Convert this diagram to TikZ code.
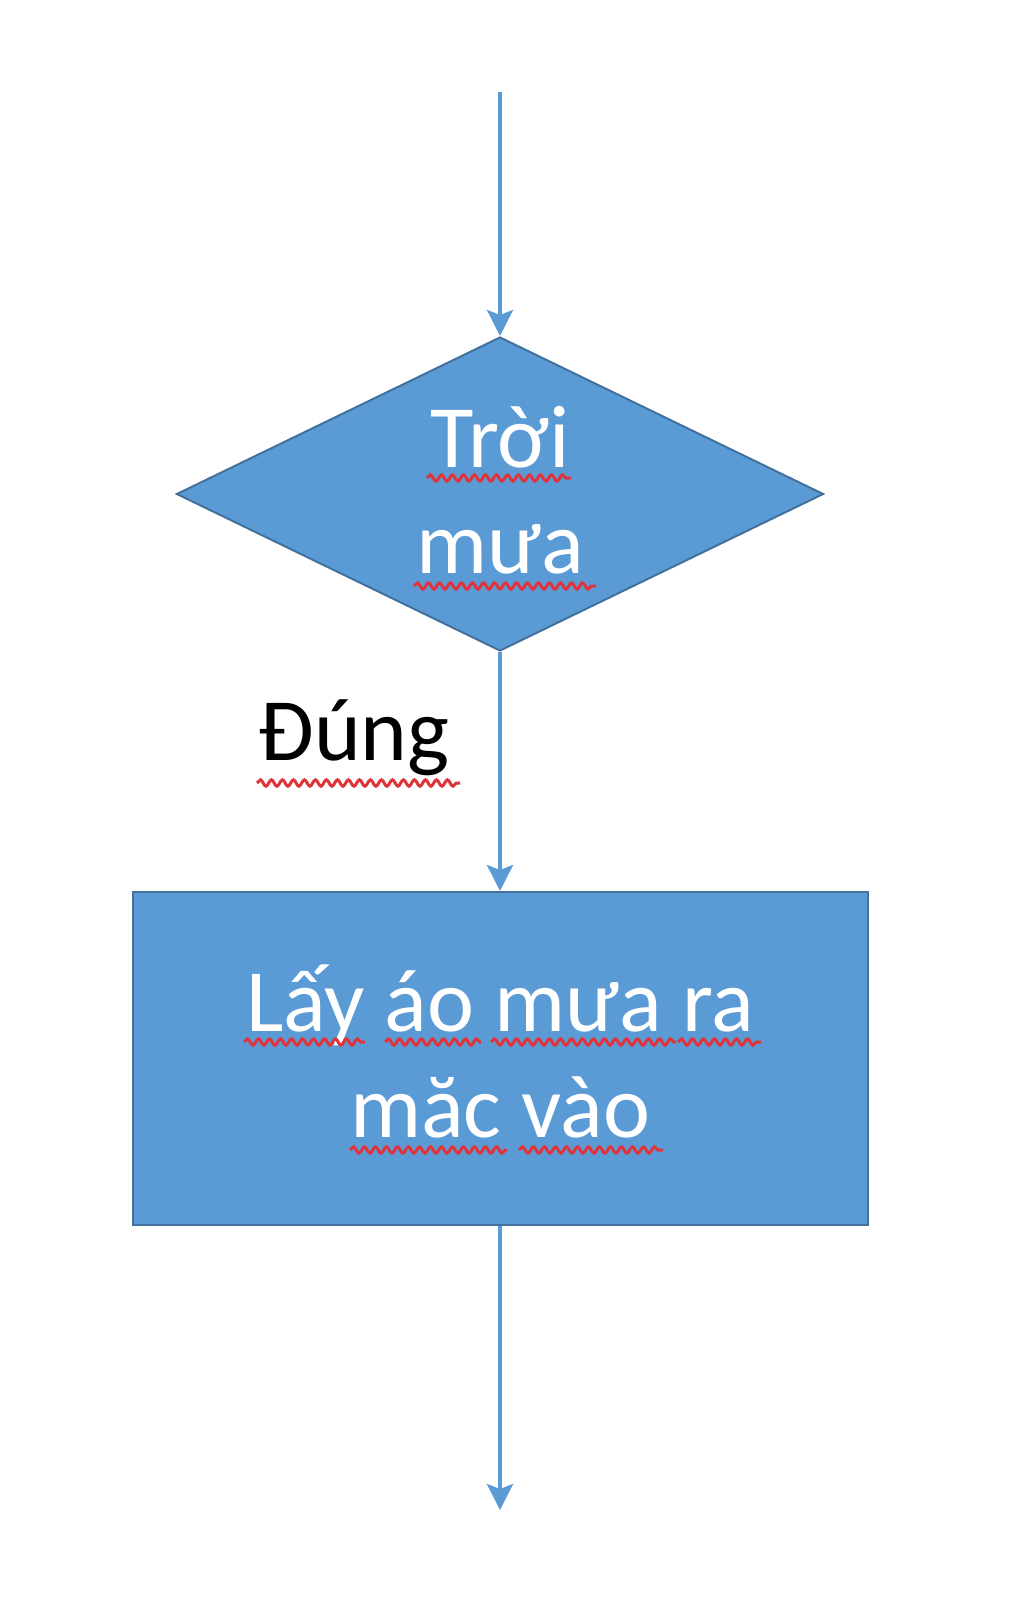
\documentclass[tikz,border=0pt]{standalone}
\usepackage{fontspec}
\setmainfont{Carlito}
\usetikzlibrary{shapes.geometric,arrows.meta,decorations.pathmorphing}
\definecolor{boxfill}{HTML}{5B9BD5}
\definecolor{boxline}{HTML}{41719C}
\definecolor{wavy}{HTML}{E0343C}
\begin{document}
\begin{tikzpicture}[x=1pt,y=-1pt,
  shapebox/.style={fill=boxfill,draw=boxline,line width=2pt,inner sep=0pt},
  bigtext/.style={font=\fontsize{89}{106}\selectfont,align=center,inner sep=0pt},
  flow/.style={draw=boxfill,line width=3.5pt,-{Stealth[length=26pt,width=26pt,inset=5pt]}},
  spell/.style={draw=wavy,line width=3pt,decorate,decoration={snake,segment length=11pt,amplitude=3.2pt}}]
\useasboundingbox (0,0) rectangle (1024,1612);
\coordinate (start) at (500,92);
\node[shapebox,diamond,minimum width=647pt,minimum height=314pt] (dec) at (500,494) {};
\node[bigtext,text=white] (dectext) at (500,490) {Trời\\mưa};
\node[shapebox,rectangle,minimum width=735pt,minimum height=333pt] (act) at (500,1058.5) {};
\node[bigtext,text=white] (acttext) at (500,1051) {Lấy áo mưa ra\\măc vào};
\coordinate (end) at (500,1510);
\node[bigtext,text=black] (yes) at (354,738) {Đúng};
\draw[flow] (start) -- (dec.north);
\draw[flow] (dec.south) -- (act.north);
\draw[flow] (act.south) -- (end);
\draw[spell] (427,478) -- (571,478);
\draw[spell] (414,586) -- (596,586);
\draw[spell] (257,783) -- (460,783);
\draw[spell] (244,1042) -- (365,1042);
\draw[spell] (385,1042) -- (481,1042);
\draw[spell] (491,1042) -- (676,1042);
\draw[spell] (678,1042) -- (761,1042);
\draw[spell] (350,1150) -- (507,1150);
\draw[spell] (519,1150) -- (663,1150);
\end{tikzpicture}
\end{document}
